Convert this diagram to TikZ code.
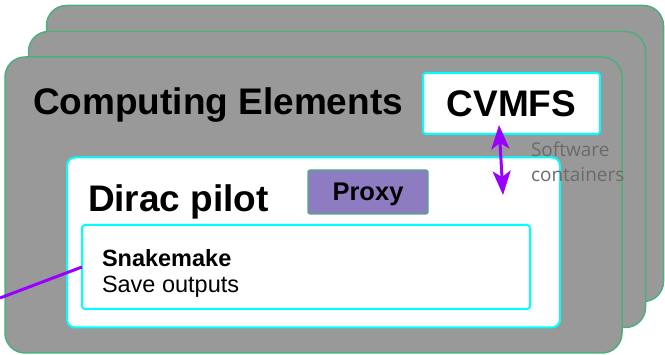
\documentclass[tikz,border=0pt]{standalone}
\usepackage{fontspec}
\setmainfont{Liberation Sans}
\newfontfamily\notefont{Open Sans}
\usetikzlibrary{arrows.meta}
\definecolor{cardgray}{HTML}{999999}
\definecolor{cardgreen}{HTML}{4FAE7E}
\definecolor{boxcyan}{HTML}{00FFFF}
\definecolor{proxypurple}{HTML}{8E7CC3}
\definecolor{linkpurple}{HTML}{9900FF}
\definecolor{notegray}{HTML}{6B6B6B}

\begin{document}
\begin{tikzpicture}[
  x=1pt, y=-1pt,
  every node/.style={inner sep=0pt, outer sep=0pt},
  card/.style={draw=cardgreen, line width=1.5pt, fill=cardgray, rounded corners=20pt, minimum width=617pt, minimum height=296pt},
  pilotbox/.style={draw=boxcyan, line width=2pt, fill=white, rounded corners=8pt},
  whitebox/.style={draw=boxcyan, line width=2pt, fill=white, rounded corners=3pt},
  proxybox/.style={draw=cardgreen, line width=1.2pt, fill=proxypurple, rounded corners=2pt, text depth=0pt, font=\fontsize{25.5}{28}\selectfont\bfseries},
  bigtitle/.style={anchor=base west, font=\fontsize{37}{40}\selectfont\bfseries},
  steptext/.style={anchor=base west, font=\fontsize{23.5}{26}\selectfont},
  note/.style={anchor=north west, align=left, text=notegray, font=\notefont\fontsize{19}{25}\selectfont},
  link/.style={linkpurple, line width=3pt},
  swlink/.style={{Stealth[length=24pt, width=18pt, inset=6pt]}-{Stealth[length=24pt, width=18pt, inset=6pt]}, linkpurple, line width=3pt}
]
\useasboundingbox (0,0) rectangle (665,355);

\node[card] (ce3) at (355,153.5) {};
\node[card] (ce2) at (337,179.5) {};
\node[card] (ce1) at (313.5,205) {};
\node[bigtitle] (celabel) at (33,115) {Computing Elements};

\node[whitebox, minimum width=177pt, minimum height=61pt, font=\fontsize{37}{40}\selectfont\bfseries] (cvmfs) at (511.5,103.5) {CVMFS};

\node[pilotbox, minimum width=493pt, minimum height=170pt] (pilot) at (313.5,242.5) {};
\node[bigtitle] (pilotlabel) at (88,212) {Dirac pilot};
\node[proxybox, minimum width=120pt, minimum height=44pt] (proxy) at (368,192) {Proxy};
\node[note] (swnote) at (531,142) {Software\\containers};

\node[whitebox, minimum width=448pt, minimum height=84pt] (snake) at (306,267) {};
\node[steptext, font=\fontsize{23.5}{26}\selectfont\bfseries] (snaketitle) at (102,267) {Snakemake};
\node[steptext] (snakestep) at (102,293) {Save outputs};

\coordinate (offleft) at (0,298);
\coordinate (cvtop) at (499,125);
\coordinate (cvbot) at (503,195);

\draw[link] (offleft) -- (snake.west);
\draw[swlink] (cvtop) -- (cvbot);
\end{tikzpicture}
\end{document}
